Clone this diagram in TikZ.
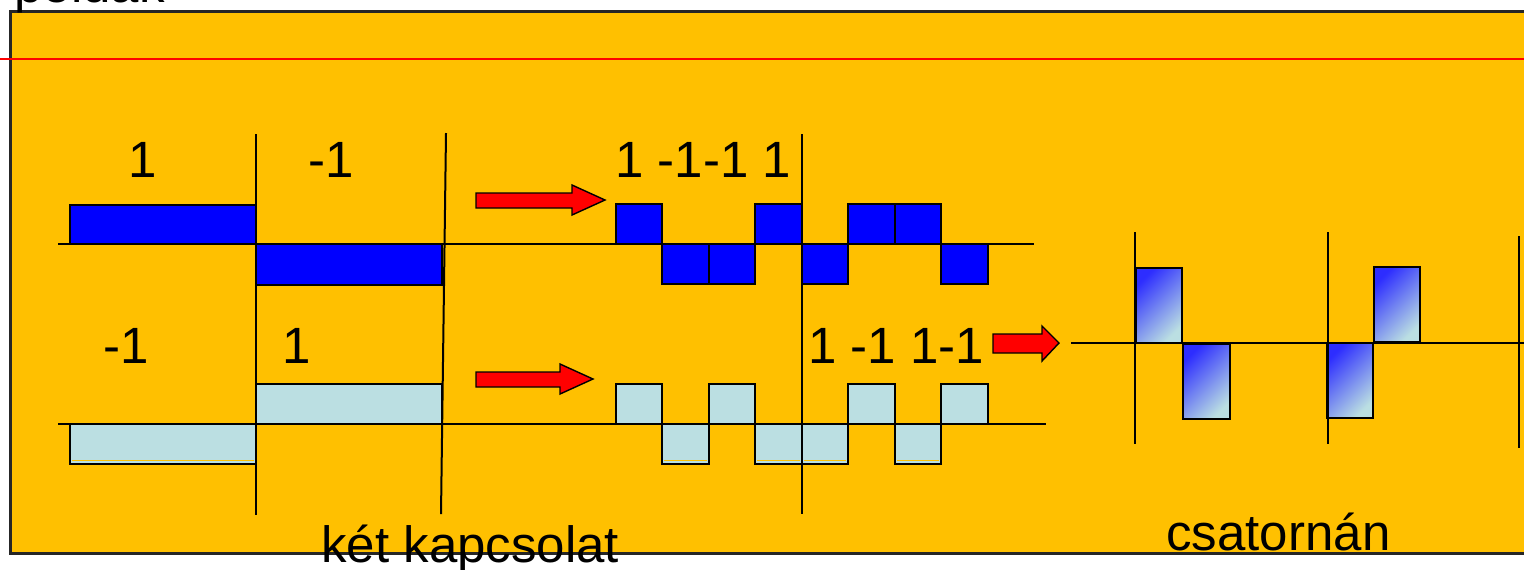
\documentclass[tikz,border=0pt]{standalone}
\usepackage{fontspec}
\setmainfont{Liberation Sans}
\definecolor{bg}{RGB}{255,192,0}
\definecolor{chipblue}{RGB}{0,0,255}
\definecolor{chiplight}{RGB}{187,223,226}
\definecolor{gradblue}{RGB}{45,45,255}
\begin{document}
\begin{tikzpicture}[x=0.5pt,y=-0.5pt,
  axisline/.style={draw=black,line width=1pt},
  divline/.style={draw=black,line width=1pt},
  bluechip/.style={fill=chipblue,draw=black,line width=1pt},
  lightchip/.style={fill=chiplight,draw=black,line width=1pt},
  gradchip/.style={shading=axis,top color=gradblue,bottom color=chiplight,shading angle=45,draw=black,line width=1pt},
  redarrow/.style={fill=red,draw=black,line width=0.7pt,line join=miter},
  bigtxt/.style={font=\fontsize{25.5}{30}\selectfont,inner sep=0pt,anchor=base west}]
\useasboundingbox (0,0) rectangle (1524,569);
% frame
\path[fill=bg,draw=black!85,line width=1.5pt] (10,11) rectangle (1560,553);
\node[bigtxt] (title) at (14,2) {példák};
\draw[red,line width=1.4pt] (0,59) -- (1524,59);

% ---- top signal (blue)
\draw[axisline] (58,244) -- (1034,244);
\draw[bluechip] (70,205) rectangle (256,244);
\draw[bluechip] (256,244) rectangle (442,285);
\foreach \a/\b/\s in {616/662/-1,662/709/1,709/755/1,755/802/-1,802/848/1,848/895/-1,895/941/-1,941/988/1}{
  \draw[bluechip] (\a,244) rectangle (\b,244+\s*40);
}
% ---- bottom signal (light)
\draw[axisline] (58,424) -- (1046,424);
\draw[lightchip] (70,424) rectangle (256,464);
\draw[lightchip] (256,384) rectangle (442,424);
\foreach \a/\b/\s in {616/662/-1,662/709/1,709/755/-1,755/802/1,802/848/1,848/895/-1,895/941/1,941/988/-1}{
  \draw[lightchip] (\a,424) rectangle (\b,424+\s*40);
}
\foreach \a/\b in {72/254,664/707,757/800,804/846,897/939}{
  \draw[bg,line width=0.5pt] (\a,460.5) -- (\b,460.5);
}
% dividers
\draw[divline] (256,134) -- (256,515);
\draw[divline] (446,133) -- (441,514);
\draw[divline] (802,134) -- (802,514);

% labels
\node[bigtxt] (l1) at (128,177) {1};
\node[bigtxt] (l2) at (308,177) {-1};
\node[bigtxt] (l3) at (615,177) {1 -1-1 1};
\node[bigtxt] (l4) at (103,363) {-1};
\node[bigtxt] (l5) at (282,363) {1};
\node[bigtxt] (l6) at (808,363) {1 -1 1-1};

% red arrows
\draw[redarrow] (476,193) -- (572,193) -- (572,185) -- (605,200) -- (572,215) -- (572,208) -- (476,208) -- cycle;
\draw[redarrow] (476,372) -- (560,372) -- (560,364) -- (593,379) -- (560,394) -- (560,387) -- (476,387) -- cycle;
\draw[redarrow] (993,334) -- (1042,334) -- (1042,326) -- (1059,343) -- (1042,361) -- (1042,353) -- (993,353) -- cycle;

% channel (sum)
\draw[axisline] (1071,343) -- (1524,343);
\draw[gradchip] (1136,268) rectangle (1182,343);
\draw[gradchip] (1183,344) rectangle (1230,419);
\draw[gradchip] (1327,343) rectangle (1373,418);
\draw[gradchip] (1374,267) rectangle (1420,342);
\draw[divline] (1135,232) -- (1135,444);
\draw[divline] (1328,232) -- (1328,444);
\draw[divline] (1519,236) -- (1519,448);

\node[bigtxt] (cap1) at (321,562) {két kapcsolat};
\node[bigtxt] (cap2) at (1166,550) {csatornán};
\end{tikzpicture}
\end{document}
